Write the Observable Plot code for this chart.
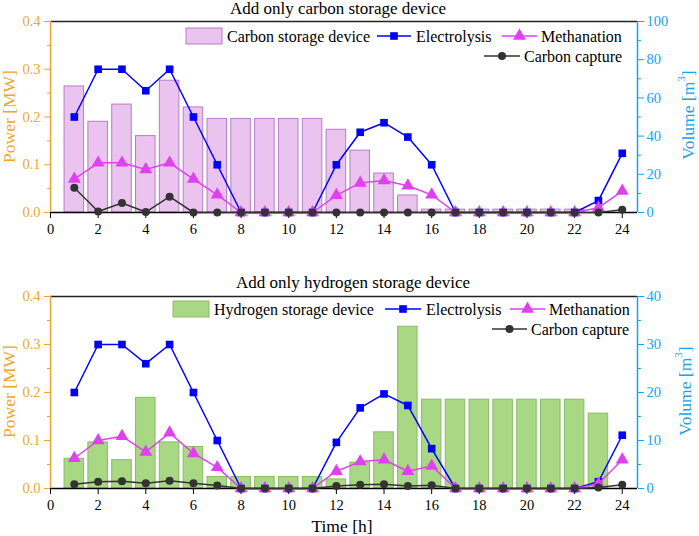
<!DOCTYPE html>
<html><head><meta charset="utf-8">
<script src="https://cdn.jsdelivr.net/npm/d3@7"></script>
<script src="https://cdn.jsdelivr.net/npm/@observablehq/plot@0.6"></script>
<style>
body{margin:0;background:#fff}
#root{position:relative;width:699px;height:536px;font-family:"Liberation Serif","Times New Roman",serif;}
#root svg{position:absolute;left:0;}
#root svg, #root svg text, #root svg tspan{font-family:"Liberation Serif","Times New Roman",serif !important;}
</style></head><body><div id="root"></div>
<script>
// ---------- data ----------
const hours = [1,2,3,4,5,6,7,8,9,10,11,12,13,14,15,16,17,18,19,20,21,22,23,24];
const hourTicks = [0,2,4,6,8,10,12,14,16,18,20,22,24];
const powerTicks = [0,0.1,0.2,0.3,0.4];
const powerMinor = [0.05,0.15,0.25,0.35];

// Panel 1: carbon storage device
const carbonStorage = [66,47.5,56.5,40,69,55,49,49,49,49,49,43.3,32.4,20.4,8.9,1.5,1.5,1.5,1.5,1.5,1.5,1.5,0,0];
const elecTop = [0.2,0.3,0.3,0.255,0.3,0.2,0.1,0,0,0,0,0.1,0.168,0.188,0.158,0.1,0,0,0,0,0,0,0.025,0.124];
const methTop = [0.07,0.104,0.104,0.09,0.104,0.07,0.037,0,0,0,0,0.036,0.062,0.067,0.056,0.037,0,0,0,0,0,0,0.01,0.045];
const captTop = [0.052,0.002,0.02,0.001,0.033,0,0,0,0,0,0,0,0,0,0,0,0,0,0,0,0,0,0,0.006];
const volTicksTop = [0,20,40,60,80,100];
const volMinorTop = [10,30,50,70,90];

// Panel 2: hydrogen storage device
const hydrogenStorage = [6.2,9.6,5.9,18.9,9.6,8.65,2.4,2.4,2.4,2.4,2.4,1.9,5.4,11.7,33.7,18.5,18.5,18.5,18.5,18.5,18.5,18.5,15.6,0];
const elecBot = [0.2,0.3,0.3,0.26,0.3,0.2,0.1,0,0,0,0,0.096,0.168,0.197,0.173,0.083,0,0,0,0,0,0,0.014,0.111];
const methBot = [0.063,0.1,0.109,0.076,0.116,0.073,0.044,0,0,0,0,0.036,0.056,0.06,0.036,0.047,0,0,0,0,0,0,0.01,0.06];
const captBot = [0.009,0.014,0.015,0.011,0.016,0.011,0.006,0,0,0,0,0.005,0.008,0.009,0.005,0.007,0,0,0,0,0,0,0.002,0.008];
const volTicksBot = [0,10,20,30,40];
const volMinorBot = [5,15,25,35];

const seriesNames = ["Electrolysis","Methanation","Carbon capture"];

// ---------- style ----------
const GOLD = "#EDA72F", SKY = "#16A3EF";
const C_ELEC = "#0000FF", C_METH = "#E040F0", C_CAPT = "#333333";
const XMAX = 24.64;
const FONT = "Liberation Serif";
const TICKFONT = 14.5;

function panel(o){
  const volMax = o.volTicks[o.volTicks.length-1];
  const pMax = powerTicks[powerTicks.length-1];
  const k = pMax/volMax;
  const rows = hours.map((h,i)=>({h, v:o.storage[i], e:o.elec[i], m:o.meth[i], c:o.capt[i]}));
  return Plot.plot({
    width:699, height:o.height, marginTop:o.marginTop, marginBottom:o.marginBottom,
    marginLeft:50, marginRight:62,
    style:{fontFamily:FONT, fontSize:TICKFONT+"px", background:"transparent", overflow:"visible"},
    x:{domain:[0,XMAX], label:null},
    y:{domain:[0,pMax], label:null},
    marks:[
      Plot.rectY(rows.filter(d=>d.v>0), {x1:d=>d.h-0.41, x2:d=>d.h+0.41, y1:0, y2:d=>d.v*k, fill:o.fill, stroke:o.stroke, strokeWidth:1}),
      Plot.ruleY([pMax], {stroke:"#222", strokeWidth:1.5}),
      Plot.ruleY([0], {stroke:"#000", strokeWidth:1.5}),
      Plot.ruleX([0], {stroke:GOLD, strokeWidth:1.5}),
      Plot.ruleX([XMAX], {stroke:SKY, strokeWidth:1.5}),
      Plot.axisX(hourTicks, {tickSize:6, tickPadding:5, stroke:"#000", fill:"#000", label:null, fontSize:TICKFONT, fontFamily:FONT}),
      Plot.axisY(powerTicks, {anchor:"left", tickFormat:d=>d.toFixed(1), tickSize:6, tickPadding:4, stroke:GOLD, fill:GOLD, label:null, fontSize:TICKFONT, fontFamily:FONT}),
      Plot.axisY(powerMinor, {anchor:"left", tickFormat:()=>"", tickSize:3, stroke:GOLD, label:null}),
      Plot.axisY(o.volTicks.map(v=>v*k), {anchor:"right", tickFormat:d=>String(Math.round(d/k)), tickSize:6, tickPadding:3, stroke:SKY, fill:SKY, label:null, fontSize:TICKFONT, fontFamily:FONT}),
      Plot.axisY(o.volMinor.map(v=>v*k), {anchor:"right", tickFormat:()=>"", tickSize:3, stroke:SKY, label:null}),
      Plot.line(rows, {x:"h", y:"e", stroke:C_ELEC, strokeWidth:1.5}),
      Plot.dot(rows, {x:"h", y:"e", symbol:"square", r:4.3, fill:C_ELEC, stroke:null}),
      Plot.line(rows, {x:"h", y:"m", stroke:C_METH, strokeWidth:1.5}),
      Plot.dot(rows, {x:"h", y:"m", symbol:"triangle", r:4.8, fill:C_METH, stroke:null}),
      Plot.line(rows, {x:"h", y:"c", stroke:C_CAPT, strokeWidth:1.5}),
      Plot.dot(rows, {x:"h", y:"c", symbol:"circle", r:4, fill:C_CAPT, stroke:null})
    ]
  });
}

const root = document.getElementById("root");
const p1 = panel({storage:carbonStorage, elec:elecTop, meth:methTop, capt:captTop, volTicks:volTicksTop, volMinor:volMinorTop,
  fill:"#EAC4EE", stroke:"#B77CC9", height:245, marginTop:21, marginBottom:33});
p1.style.top = "0px";
root.appendChild(p1);
const p2 = panel({storage:hydrogenStorage, elec:elecBot, meth:methBot, capt:captBot, volTicks:volTicksBot, volMinor:volMinorBot,
  fill:"#A9D884", stroke:"#8ABB66", height:271, marginTop:31, marginBottom:48});
p2.style.top = "265px";
root.appendChild(p2);

// ---------- overlay text: titles, axis titles, legends ----------
const ov = d3.select(root).append("svg").attr("width",699).attr("height",536)
  .style("top","0px").style("pointer-events","none").attr("font-family",FONT);

function txt(x,y,s,opt={}){
  const t = ov.append("text").attr("x",x).attr("y",y).text(s)
    .attr("font-size",opt.size||16).attr("fill",opt.fill||"#000")
    .attr("text-anchor",opt.anchor||"start").attr("dominant-baseline",opt.baseline||"alphabetic");
  if(opt.rotate) t.attr("transform",`rotate(-90,${x},${y})`);
  return t;
}
// titles
txt(338,14,"Add only carbon storage device",{size:17,anchor:"middle"});
txt(353,288,"Add only hydrogen storage device",{size:17,anchor:"middle"});
// axis titles
txt(9,116.5,"Power [MW]",{size:17.5,fill:GOLD,anchor:"middle",baseline:"central",rotate:true});
txt(9,391.5,"Power [MW]",{size:17.5,fill:GOLD,anchor:"middle",baseline:"central",rotate:true});
function volTitle(x,y){
  const t = txt(x,y,"",{size:17.5,fill:SKY,anchor:"middle",baseline:"central",rotate:true});
  t.append("tspan").text("Volume [m");
  t.append("tspan").text("3").attr("font-size",11).attr("dy",-7);
  t.append("tspan").text("]").attr("dy",7);
}
volTitle(688,115);
volTitle(685,391);
txt(342,526,"Time [h]",{size:17.5,anchor:"middle",baseline:"central"});

// legends
function swatch(x1,x2,y,fill,stroke){
  ov.append("rect").attr("x",x1).attr("y",y-8).attr("width",x2-x1).attr("height",16)
    .attr("fill",fill).attr("stroke",stroke);
}
function lineKey(x1,x2,y,color,sym,r){
  ov.append("line").attr("x1",x1).attr("x2",x2).attr("y1",y).attr("y2",y).attr("stroke",color).attr("stroke-width",1.5);
  ov.append("path").attr("d",d3.symbol().type(sym).size(Math.PI*r*r)()).attr("transform",`translate(${(x1+x2)/2},${y})`).attr("fill",color);
}
function legend(y1,y2,storageName,fill,stroke,L){
  swatch(L.sw[0],L.sw[1],y1,fill,stroke);
  txt(L.sw[1]+5,y1,storageName,{baseline:"central"});
  lineKey(L.el[0],L.el[1],y1,C_ELEC,d3.symbolSquare,4.3);
  txt(L.el[1]+5,y1,seriesNames[0],{baseline:"central"});
  lineKey(L.me[0],L.me[1],y1,C_METH,d3.symbolTriangle,4.8);
  txt(L.me[1]+4,y1,seriesNames[1],{baseline:"central"});
  lineKey(L.ca[0],L.ca[1],y2,C_CAPT,d3.symbolCircle,4);
  txt(L.ca[1]+4,y2,seriesNames[2],{baseline:"central"});
}
legend(36,56,"Carbon storage device","#EAC4EE","#B77CC9",{sw:[186,222],el:[377,411],me:[502,537],ca:[484,520]});
legend(309,329,"Hydrogen storage device","#A9D884","#8ABB66",{sw:[173,209],el:[385,421],me:[510,545],ca:[492,527]});
</script></body></html>
